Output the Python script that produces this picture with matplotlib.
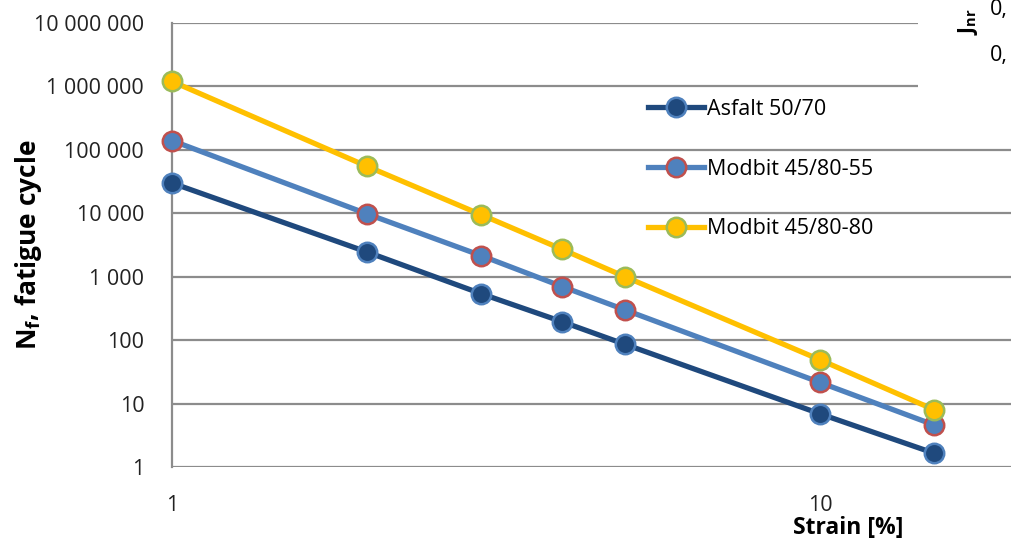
import matplotlib
matplotlib.use("Agg")
import matplotlib.pyplot as plt
from matplotlib.patches import Rectangle
from matplotlib.ticker import FixedLocator, FuncFormatter, NullLocator

plt.rcParams['font.family'] = ['Open Sans', 'DejaVu Sans']

# Strain levels [%] and fatigue life N_f for each binder
strain = [1, 2, 3, 4, 5, 10, 15]
asfalt_50_70 = [30000, 2450, 540, 195, 86, 6.9, 1.65]
modbit_55 = [140000, 9800, 2150, 700, 300, 21.5, 4.6]
modbit_80 = [1200000, 55000, 9500, 2700, 1000, 49, 8.0]

series = [
    ("Asfalt 50/70", asfalt_50_70, "#1F497D", "#1F497D", "#4F81BD"),
    ("Modbit 45/80-55", modbit_55, "#4F81BD", "#4F81BD", "#C0504D"),
    ("Modbit 45/80-80", modbit_80, "#FFC000", "#FFC000", "#9BBB59"),
]

y_ticks = [1, 10, 100, 1000, 10000, 100000, 1000000, 10000000]
x_ticks = [1, 10]

W, H = 1011, 540
fig = plt.figure(figsize=(W / 100, H / 100), dpi=100)
ax = fig.add_axes([172 / W, 1 - 467 / H, (W - 172) / W, (467 - 23) / H])
ax.set_xscale("log")
ax.set_yscale("log")
ax.set_xlim(1, 10 ** ((W - 172) / 648))
ax.set_ylim(1, 1e7)

handles = []
for name, vals, lc, fc, ec in series:
    h, = ax.plot(strain, vals, color=lc, lw=3.8, marker="o", ms=14,
                 mfc=fc, mec=ec, mew=1.8, label=name, zorder=3, clip_on=False)
    handles.append(h)

ax.yaxis.set_major_locator(FixedLocator(y_ticks))
ax.yaxis.set_minor_locator(NullLocator())
ax.xaxis.set_major_locator(FixedLocator(x_ticks))
ax.xaxis.set_minor_locator(NullLocator())
ax.yaxis.set_major_formatter(FuncFormatter(lambda v, p: f"{int(round(v)):,}".replace(",", " ")))
ax.xaxis.set_major_formatter(FuncFormatter(lambda v, p: f"{int(round(v))}"))
ax.tick_params(axis="both", length=0, labelsize=15.5, colors="#222222")
ax.tick_params(axis="x", pad=20)
ax.tick_params(axis="y", pad=20)

ax.grid(axis="y", color="#8C8C8C", lw=1.6)
ax.set_axisbelow(True)
for s in ["top", "right", "bottom"]:
    ax.spines[s].set_visible(False)
ax.spines["left"].set_color("#8C8C8C")
ax.spines["left"].set_linewidth(1.6)

ax.set_ylabel("N$_\\mathregular{f}$, fatigue cycle", fontsize=19, fontweight="bold")
ax.yaxis.set_label_coords((44 - 172) / (W - 172), 0.5)
fig.text(848 / W, 1 - 528 / H, "Strain [%]", fontsize=16.5, fontweight="bold",
         ha="center", va="center")

ax.legend(handles=handles, loc="upper left", bbox_to_anchor=(648 / W, 1 - 99 / H),
          bbox_transform=fig.transFigure, frameon=False, fontsize=15.5,
          labelspacing=1.8, handlelength=2.6, handletextpad=0.15,
          borderaxespad=0, borderpad=0)

# Neighbouring panel overlapping the top-right corner
fig.patches.append(Rectangle((918 / W, 1 - 120 / H), (W - 918) / W, 120 / H,
                             transform=fig.transFigure, facecolor="white",
                             edgecolor="none", zorder=5))
fig.text(968 / W, 1 - 22 / H, "J$_\\mathregular{nr}$", rotation=90, fontsize=15,
         fontweight="bold", ha="center", va="center", zorder=6)
fig.text(990 / W, 1 - 10 / H, "0,", fontsize=15.5, ha="left", va="center", zorder=6)
fig.text(990 / W, 1 - 55 / H, "0,", fontsize=15.5, ha="left", va="center", zorder=6)

fig.savefig("out.png", dpi=100)
